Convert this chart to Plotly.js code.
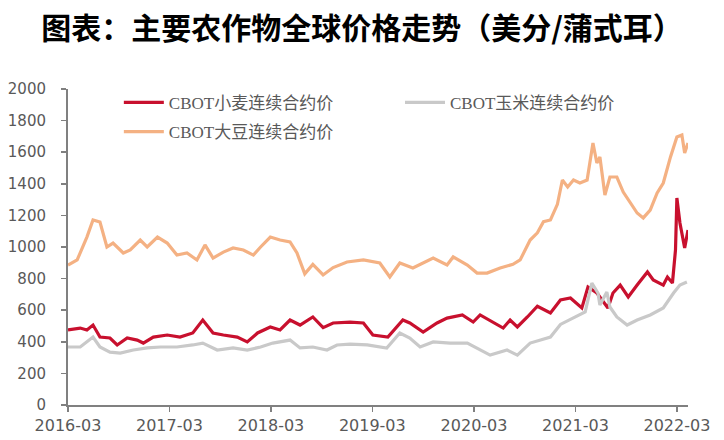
<!DOCTYPE html>
<html>
<head>
<meta charset="utf-8">
<script src="https://cdn.plot.ly/plotly-3.0.1.min.js"></script>
<style>html,body{margin:0;padding:0;background:#fff;}#chart{width:724px;height:440px;}</style>
</head>
<body>
<div id="chart"></div>
<script>
// ---- data (cents / bushel) ----
var wheatDates = ['2016-03-01','2016-04-14','2016-05-08','2016-05-30','2016-06-24','2016-07-30','2016-08-25','2016-09-30','2016-11-05','2016-11-27','2017-01-02','2017-02-21','2017-04-08','2017-05-24','2017-06-29','2017-08-05','2017-09-11','2017-10-31','2017-12-06','2018-01-12','2018-02-27','2018-04-03','2018-05-09','2018-06-14','2018-07-30','2018-09-05','2018-10-11','2018-12-11','2019-01-28','2019-03-03','2019-04-26','2019-06-19','2019-07-14','2019-08-31','2019-10-20','2019-11-25','2020-01-19','2020-02-27','2020-03-23','2020-05-09','2020-06-14','2020-07-09','2020-08-04','2020-09-09','2020-10-15','2020-12-01','2021-01-06','2021-02-11','2021-03-24','2021-04-15','2021-05-17','2021-06-26','2021-07-14','2021-08-09','2021-09-07','2021-10-09','2021-11-15','2021-12-06','2022-01-11','2022-01-26','2022-02-13','2022-02-24','2022-03-01','2022-03-12','2022-03-22','2022-03-29','2022-04-10'];
var wheatValues = [475,487,475,506,430,424,380,424,411,392,430,443,430,456,538,456,443,430,399,456,494,475,538,506,557,490,519,525,519,443,430,538,519,462,519,550,570,525,570,525,487,538,494,557,625,582,665,677,614,747,709,614,709,759,684,759,842,791,759,810,772,981,1310,1152,1044,994,1108];

var cornDates = ['2016-03-01','2016-04-14','2016-05-30','2016-06-24','2016-07-30','2016-09-05','2016-10-22','2016-12-11','2017-01-28','2017-03-28','2017-05-24','2017-06-29','2017-08-20','2017-10-16','2017-12-06','2018-01-23','2018-03-08','2018-05-09','2018-06-14','2018-07-30','2018-09-19','2018-10-25','2018-12-11','2019-02-11','2019-04-22','2019-06-08','2019-07-14','2019-08-20','2019-10-06','2019-12-06','2020-02-06','2020-03-23','2020-04-28','2020-06-28','2020-08-04','2020-09-19','2020-12-01','2021-01-06','2021-02-22','2021-04-05','2021-04-29','2021-05-21','2021-05-28','2021-06-22','2021-07-03','2021-07-28','2021-09-03','2021-10-09','2021-11-25','2022-01-11','2022-02-17','2022-03-12','2022-04-06'];
var cornValues = [367,367,430,367,335,329,348,361,367,367,380,392,348,361,348,367,392,411,361,367,348,380,385,380,361,456,424,367,399,392,392,348,316,348,316,392,430,510,550,589,772,709,633,715,620,557,506,538,570,614,709,759,778];

var soyDates = ['2016-03-01','2016-04-03','2016-05-08','2016-05-30','2016-06-24','2016-07-19','2016-08-10','2016-09-16','2016-10-11','2016-11-16','2016-12-11','2017-01-17','2017-02-21','2017-03-28','2017-05-03','2017-06-08','2017-07-07','2017-08-05','2017-09-11','2017-10-16','2017-11-22','2017-12-28','2018-01-23','2018-02-27','2018-04-03','2018-05-09','2018-06-03','2018-07-01','2018-07-30','2018-09-05','2018-10-11','2018-11-30','2019-01-28','2019-03-28','2019-05-03','2019-06-08','2019-07-25','2019-10-06','2019-11-25','2019-12-17','2020-02-06','2020-03-12','2020-04-17','2020-06-03','2020-07-19','2020-08-14','2020-09-19','2020-10-15','2020-11-06','2020-12-01','2020-12-26','2021-01-13','2021-02-01','2021-02-22','2021-03-17','2021-04-12','2021-05-03','2021-05-17','2021-05-28','2021-06-15','2021-07-03','2021-07-28','2021-08-20','2021-09-14','2021-10-09','2021-10-31','2021-11-25','2021-12-20','2022-01-11','2022-02-06','2022-03-01','2022-03-19','2022-03-29','2022-04-10'];
var soyValues = [886,918,1063,1171,1158,1000,1025,962,981,1044,1000,1063,1025,949,962,918,1013,930,968,994,981,949,1000,1063,1044,1032,962,830,890,823,870,905,918,899,810,899,867,930,886,937,886,835,835,867,890,918,1044,1090,1160,1171,1270,1424,1380,1424,1405,1424,1658,1532,1570,1329,1443,1443,1348,1278,1215,1184,1234,1342,1405,1570,1696,1709,1595,1658];

var seriesNames = ['CBOT小麦连续合约价','CBOT玉米连续合约价','CBOT大豆连续合约价'];
var tickDates = ['2016-03-01','2017-03-01','2018-03-01','2019-03-01','2020-03-01','2021-03-01','2022-03-01'];
var tickLabels = ['2016-03','2017-03','2018-03','2019-03','2020-03','2021-03','2022-03'];
var yTicks = [0,200,400,600,800,1000,1200,1400,1600,1800,2000];

var traces = [
  {x: wheatDates, y: wheatValues, name: seriesNames[0], type:'scatter', mode:'lines',
   line:{color:'#C8102E', width:3.2}, legend:'legend'},
  {x: cornDates, y: cornValues, name: seriesNames[1], type:'scatter', mode:'lines',
   line:{color:'#C9C9C9', width:3.2}, legend:'legend2'},
  {x: soyDates, y: soyValues, name: seriesNames[2], type:'scatter', mode:'lines',
   line:{color:'#F4B183', width:3.2}, legend:'legend3'}
];

var legFont = {family:'"Liberation Serif", "Noto Sans CJK SC", serif', size:17, color:'#595959'};
function leg(x, y) {
  return {orientation:'h', x:x, xanchor:'left', y:y, yanchor:'middle',
    font:legFont, bgcolor:'rgba(0,0,0,0)', itemwidth:40};
}
var layout = {
  width:724, height:440,
  margin:{l:68, r:36, t:89, b:35, pad:0},
  paper_bgcolor:'#fff', plot_bgcolor:'#fff',
  title:{text:'图表：主要农作物全球价格走势（美分/蒲式耳）',
    font:{family:'"Noto Sans CJK SC", sans-serif', size:30, color:'#000', weight:'bold'},
    x:0.5, xref:'container', xanchor:'center', y:0.935, yref:'container', yanchor:'middle'},
  showlegend:true,
  legend: leg(0.082, 0.956),
  legend2: leg(0.5355, 0.956),
  legend3: leg(0.082, 0.864),
  xaxis:{type:'date', range:['2016-03-01','2022-04-10'],
    tickvals:tickDates, ticktext:tickLabels,
    showline:true, linecolor:'#808080', linewidth:2,
    ticks:'outside', ticklen:5, tickwidth:1.5, tickcolor:'#808080',
    showgrid:false, zeroline:false,
    tickfont:{family:'"DejaVu Sans", sans-serif', size:16, color:'#595959'}},
  yaxis:{range:[0,2000], tickvals:yTicks,
    showline:true, linecolor:'#808080', linewidth:2,
    ticks:'outside', ticklen:5, tickwidth:1.5, tickcolor:'#808080',
    showgrid:false, zeroline:false, ticklabelstandoff:12,
    tickfont:{family:'"DejaVu Sans", sans-serif', size:15, color:'#595959'}}
};

Plotly.newPlot('chart', traces, layout, {displayModeBar:false, staticPlot:true});
</script>
</body>
</html>
